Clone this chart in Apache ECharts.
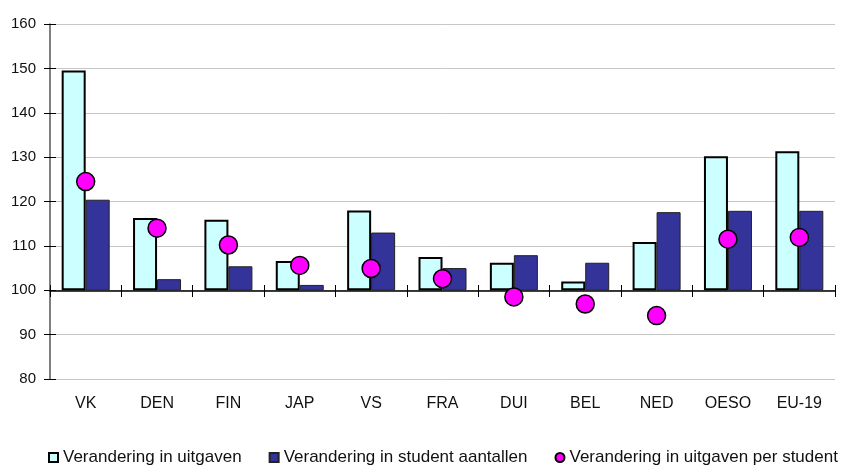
<!DOCTYPE html>
<html>
<head>
<meta charset="utf-8">
<script src="https://cdn.jsdelivr.net/npm/echarts@6/dist/echarts.min.js"></script>
<style>
  html, body { margin: 0; padding: 0; background: #fff; }
  #chart { width: 842px; height: 466px; }
</style>
</head>
<body>
<div id="chart"></div>
<script>
const categories = ['VK', 'DEN', 'FIN', 'JAP', 'VS', 'FRA', 'DUI', 'BEL', 'NED', 'OESO', 'EU-19']
const uitgaven = [149.5, 116.3, 115.9, 106.6, 118.0, 107.5, 106.2, 102.0, 110.9, 130.2, 131.3]
const studenten = [120.4, 102.5, 105.4, 101.2, 113.0, 105.0, 107.9, 106.2, 117.6, 117.9, 117.9]
const perStudent = [124.5, 114.0, 110.2, 105.6, 104.9, 102.6, 98.5, 96.9, 94.3, 111.5, 111.9]
const yTicks = [80, 90, 100, 110, 120, 130, 140, 150, 160]

const baseline = 100
const font = '"Liberation Sans", Arial, sans-serif'

const chart = echarts.init(document.getElementById('chart'))

const baseSeries = (stack) => ({
  type: 'bar',
  stack,
  silent: true,
  data: categories.map(() => baseline),
  itemStyle: { color: 'transparent' },
  barWidth: 24,
  barGap: '0%',
  legendHoverLink: false
})

chart.setOption({
  animation: false,
  textStyle: { fontFamily: font },
  grid: [
    { left: 50, right: 7, top: 24, bottom: 87 },
    { left: 50, right: 7, top: 285, height: 6 }
  ],
  legend: {
    left: 48,
    width: 794,
    bottom: 0,
    padding: 0,
    itemWidth: 9,
    itemHeight: 9,
    itemGap: 27,
    textStyle: { fontSize: 17, color: '#111', fontFamily: font },
    data: [
      { name: 'Verandering in uitgaven', icon: 'rect' },
      { name: 'Verandering in student aantallen', icon: 'rect' },
      { name: 'Verandering in uitgaven per student', icon: 'circle' }
    ]
  },
  xAxis: [
    {
      type: 'category',
      data: categories,
      gridIndex: 0,
      axisLine: { show: false },
      axisTick: { show: false },
      axisLabel: { fontSize: 16, color: '#111', margin: 17 }
    },
    {
      type: 'category',
      data: categories,
      gridIndex: 1,
      position: 'bottom',
      axisLine: { show: true, lineStyle: { color: '#000', width: 1.5 } },
      axisTick: { show: true, interval: 0, length: 6, lineStyle: { color: '#000' } },
      axisLabel: { show: false, interval: 0 }
    },
    {
      type: 'category',
      data: categories,
      gridIndex: 1,
      position: 'bottom',
      axisLine: { show: false },
      axisTick: { show: true, interval: 0, inside: true, length: 6, lineStyle: { color: '#000' } },
      axisLabel: { show: false, interval: 0 }
    }
  ],
  yAxis: [
    {
      type: 'value',
      position: 'left',
      min: yTicks[0],
      max: yTicks[yTicks.length - 1],
      interval: 10,
      axisLine: { show: true, lineStyle: { color: '#555', width: 1.5 } },
      axisTick: { show: true, length: 6, lineStyle: { color: '#000' } },
      axisLabel: { fontSize: 15, color: '#111', margin: 14 },
      splitLine: { lineStyle: { color: '#c6c6c6' } }
    },
    {
      type: 'value',
      position: 'left',
      min: yTicks[0],
      max: yTicks[yTicks.length - 1],
      interval: 10,
      axisLine: { show: false },
      axisTick: { show: true, inside: true, length: 6, lineStyle: { color: '#000' } },
      axisLabel: { show: false },
      splitLine: { show: false }
    },
    { type: 'value', gridIndex: 1, min: 0, max: 1, show: false }
  ],
  series: [
    baseSeries('a'),
    baseSeries('b'),
    {
      name: 'Verandering in uitgaven',
      type: 'bar',
      stack: 'a',
      barWidth: 24,
      barGap: '0%',
      data: uitgaven.map((v) => +(v - baseline).toFixed(2)),
      itemStyle: { color: '#ccffff', borderColor: '#000', borderWidth: 2 },
      z: 3
    },
    {
      name: 'Verandering in student aantallen',
      type: 'bar',
      stack: 'b',
      barWidth: 24,
      barGap: '0%',
      data: studenten.map((v) => +(v - baseline).toFixed(2)),
      itemStyle: { color: '#333399', borderColor: '#222', borderWidth: 1 },
      z: 2
    },
    {
      name: 'Verandering in uitgaven per student',
      type: 'scatter',
      data: perStudent,
      symbol: 'circle',
      symbolSize: 18,
      itemStyle: { color: '#ff00ff', borderColor: '#000', borderWidth: 1.5, opacity: 1 },
      z: 5
    }
  ]
})
</script>
</body>
</html>
